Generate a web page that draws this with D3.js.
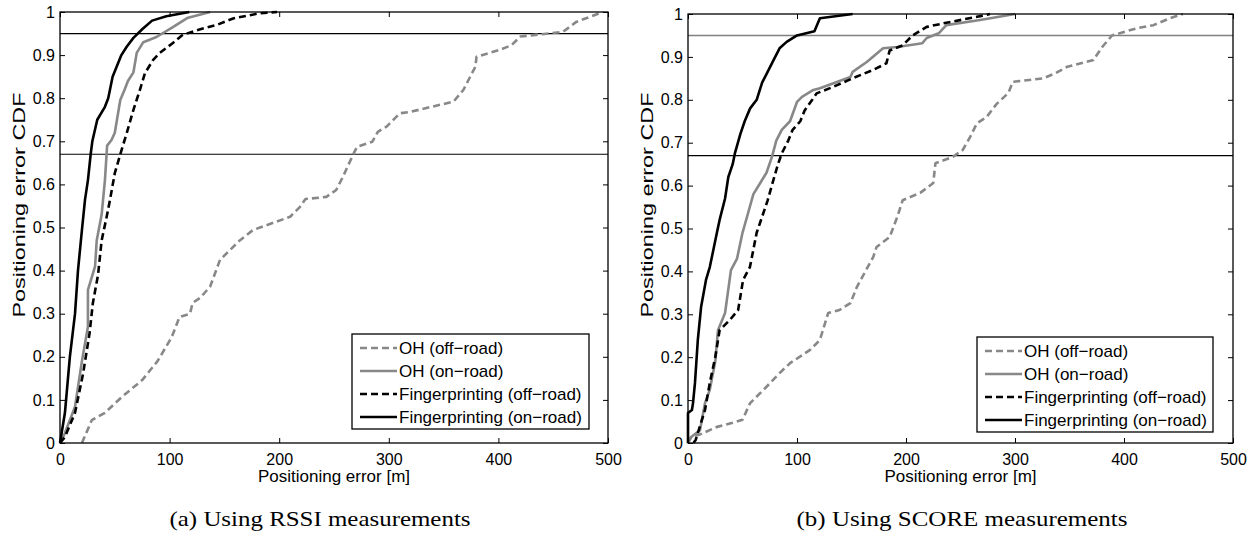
<!DOCTYPE html>
<html>
<head>
<meta charset="utf-8">
<script src="https://cdn.jsdelivr.net/npm/d3@7"></script>
<style>
  body { margin: 0; background: #fff; }
  svg { display: block; }
  text { font-family: "Liberation Sans", Arial, sans-serif; fill: #000; }
  .caption { font-family: "Liberation Serif", "Times New Roman", serif; }
</style>
</head>
<body>
<svg id="chart"></svg>
<script>
// ----- data -----
var xTicks = [0, 100, 200, 300, 400, 500];
var yTicks = [0, 0.1, 0.2, 0.3, 0.4, 0.5, 0.6, 0.7, 0.8, 0.9, 1];
var refLevels = [0.67, 0.95];
var seriesNames = ["OH (off\u2212road)", "OH (on\u2212road)", "Fingerprinting (off\u2212road)", "Fingerprinting (on\u2212road)"];
var captions = ["(a) Using RSSI measurements", "(b) Using SCORE measurements"];

// RSSI panel: [error m, CDF]
var rssiOhOff = [[20,0],[29,0.053],[41,0.07],[56.5,0.107],[75,0.146],[89,0.19],[102,0.246],[109,0.292],[118.6,0.30],[121,0.325],[128,0.337],[137,0.363],[146,0.425],[164,0.47],[176,0.494],[210,0.525],[219,0.548],[224,0.566],[243,0.571],[252,0.587],[258,0.617],[268,0.672],[271,0.687],[285,0.699],[290,0.722],[298,0.734],[310,0.765],[319,0.768],[359,0.792],[368,0.819],[379,0.873],[380,0.896],[401,0.912],[412,0.923],[420,0.943],[459,0.954],[471,0.977],[488,0.993],[495,1]];
var rssiOhOn = [[0,0],[4.5,0.023],[13.7,0.084],[20,0.19],[25.5,0.27],[25.5,0.355],[32,0.41],[33.5,0.47],[38,0.53],[41,0.61],[43,0.69],[47,0.703],[50,0.72],[55,0.796],[59,0.82],[62,0.84],[67,0.86],[70,0.905],[76,0.93],[88,0.942],[103,0.965],[116,0.986],[137,1]];
var rssiFpOff = [[0,0],[4.5,0.014],[13.7,0.07],[21,0.16],[27,0.255],[30,0.325],[34.7,0.39],[38,0.47],[43,0.53],[45.6,0.564],[50,0.626],[55.6,0.675],[61,0.72],[67,0.773],[73,0.82],[77.5,0.858],[85,0.889],[91,0.905],[103,0.928],[112,0.947],[128,0.96],[143,0.97],[158,0.985],[182,0.997],[198,1]];
var rssiFpOn = [[0,0],[4.5,0.07],[9,0.2],[13.7,0.3],[16.4,0.4],[20,0.494],[22.8,0.564],[25.5,0.61],[28,0.67],[29.5,0.7],[34,0.75],[41,0.78],[44,0.8],[48,0.85],[56,0.9],[61,0.92],[67,0.94],[75,0.96],[84,0.98],[97,0.99],[118,1]];

// SCORE panel
var scoreOhOff = [[0,0],[3,0.014],[11,0.02],[26,0.037],[41,0.047],[50,0.054],[57,0.093],[71.6,0.13],[84,0.163],[93.6,0.186],[112,0.217],[121,0.24],[128.6,0.303],[139,0.31],[149,0.326],[155,0.364],[170,0.434],[173,0.457],[185,0.48],[192,0.527],[197,0.566],[213,0.583],[225,0.606],[227,0.652],[243,0.667],[252,0.683],[259,0.714],[265,0.745],[274,0.76],[283,0.79],[294,0.816],[298,0.842],[326,0.85],[337,0.862],[348,0.877],[372,0.893],[380,0.923],[389,0.95],[412,0.967],[427,0.974],[442,0.99],[454,1]];
var scoreOhOn = [[0,0],[3,0.014],[11,0.03],[15.6,0.093],[20,0.124],[25,0.19],[27.5,0.263],[34,0.303],[39.4,0.403],[45,0.43],[50,0.49],[55,0.535],[60,0.58],[66,0.605],[72,0.63],[77,0.667],[81,0.705],[86,0.73],[93.6,0.75],[100,0.795],[104.6,0.807],[115,0.823],[121,0.827],[149,0.853],[151,0.865],[164,0.888],[179,0.92],[192,0.923],[215,0.932],[219,0.944],[230,0.955],[237,0.974],[268,0.986],[300,1]];
var scoreFpOff = [[5,0],[7,0.007],[15.6,0.077],[20,0.14],[25,0.2],[29,0.263],[38.5,0.287],[46,0.31],[48.6,0.35],[50.5,0.38],[56.8,0.41],[63,0.49],[69,0.535],[73,0.565],[78,0.61],[82.6,0.65],[86,0.675],[92,0.705],[96,0.73],[103,0.75],[107,0.775],[114,0.8],[118,0.815],[133,0.83],[151,0.85],[170,0.87],[182,0.885],[185,0.915],[197,0.927],[206,0.95],[219,0.97],[234,0.978],[274,0.998],[277,1]];
var scoreFpOn = [[0,0],[0,0.07],[3.6,0.077],[4.6,0.093],[6.4,0.14],[9,0.24],[12,0.317],[16.5,0.38],[20,0.41],[26.5,0.49],[29,0.52],[34,0.57],[37,0.62],[41,0.65],[43,0.675],[48,0.72],[52,0.75],[57,0.78],[63,0.8],[68,0.84],[72,0.86],[78,0.89],[84,0.92],[90.5,0.935],[100,0.95],[116,0.96],[121,0.99],[151,1]];

(function (d3) {

    var W = 1257, H = 536;
    var svg = d3.select("#chart").attr("width", W).attr("height", H);

    var GRAY = "#888888";
    var styles = [
        { color: GRAY, dash: "7,4" },
        { color: GRAY, dash: null },
        { color: "#000", dash: "7,4" },
        { color: "#000", dash: null }
    ];

    var panels = [
        { left: 60, top: 12, width: 548, height: 431, series: [rssiOhOff, rssiOhOn, rssiFpOff, rssiFpOn],
          refColors: ["#000", "#000"], legend: { x: 352, y: 334, w: 237, h: 95 }, ylabelX: 25,
          caption: captions[0], captionX: 320, captionLen: 301 },
        { left: 688, top: 14, width: 545, height: 429, series: [scoreOhOff, scoreOhOn, scoreFpOff, scoreFpOn],
          refColors: ["#000", "#808080"], legend: { x: 977, y: 337, w: 236, h: 95 }, ylabelX: 653,
          caption: captions[1], captionX: 962, captionLen: 331 }
    ];

    panels.forEach(function (p) { drawPanel(p); });

    function drawPanel(p) {
        var x = d3.scaleLinear().domain([0, 500]).range([0, p.width]);
        var y = d3.scaleLinear().domain([0, 1]).range([p.height, 0]);
        var g = svg.append("g").attr("transform", "translate(" + p.left + "," + p.top + ")");

        // reference levels
        g.selectAll(".ref").data(refLevels).enter().append("line")
            .attr("x1", 0).attr("x2", p.width)
            .attr("y1", function (d) { return y(d); }).attr("y2", function (d) { return y(d); })
            .attr("stroke", function (d, i) { return p.refColors[i]; })
            .attr("stroke-width", function (d, i) { return i === 1 && p.refColors[i] !== "#000" ? 1.6 : 1.2; });

        // curves
        var line = d3.line().x(function (d) { return x(d[0]); }).y(function (d) { return y(d[1]); });
        p.series.forEach(function (s, i) {
            g.append("path").datum(s)
                .attr("d", line)
                .attr("fill", "none")
                .attr("stroke", styles[i].color)
                .attr("stroke-width", 2.6)
                .attr("stroke-dasharray", styles[i].dash)
                .attr("stroke-linejoin", "round");
        });

        // axes (matlab style: inward ticks on every side)
        var fmtY = function (d) { return d === 0 || d === 1 ? String(d) : d3.format(".1f")(d); };
        var bottom = g.append("g").attr("transform", "translate(0," + p.height + ")")
            .call(d3.axisBottom(x).tickValues(xTicks).tickSizeInner(-5).tickSizeOuter(0));
        var left = g.append("g")
            .call(d3.axisLeft(y).tickValues(yTicks).tickFormat(fmtY).tickSizeInner(-5).tickSizeOuter(0).tickPadding(5));
        var top = g.append("g")
            .call(d3.axisTop(x).tickValues(xTicks).tickSizeInner(-5).tickSizeOuter(0).tickFormat(""));
        var right = g.append("g").attr("transform", "translate(" + p.width + ",0)")
            .call(d3.axisRight(y).tickValues(yTicks).tickSizeInner(-5).tickSizeOuter(0).tickFormat(""));
        [bottom, left, top, right].forEach(function (a) {
            a.select(".domain").remove();
            a.selectAll("line").attr("stroke", "#000").attr("stroke-width", 1);
            a.selectAll("text").style("font-family", "Liberation Sans, Arial, sans-serif").style("font-size", "16px");
        });
        bottom.selectAll("text").attr("y", 22).attr("dy", 0);

        g.append("rect").attr("width", p.width).attr("height", p.height)
            .attr("fill", "none").attr("stroke", "#000").attr("stroke-width", 1.3);

        // axis titles
        g.append("text").attr("x", p.width / 2).attr("y", p.height + 39)
            .attr("text-anchor", "middle").style("font-size", "17px").text("Positioning error [m]");
        svg.append("text").attr("transform", "translate(" + p.ylabelX + ",205) rotate(-90)")
            .attr("text-anchor", "middle").style("font-size", "17px")
            .attr("textLength", 225).attr("lengthAdjust", "spacingAndGlyphs")
            .text("Positioning error CDF");

        // legend
        var lg = svg.append("g").attr("transform", "translate(" + p.legend.x + "," + p.legend.y + ")");
        lg.append("rect").attr("width", p.legend.w).attr("height", p.legend.h)
            .attr("fill", "#fff").attr("stroke", "#000").attr("stroke-width", 1.3);
        seriesNames.forEach(function (name, i) {
            var yy = 14 + i * 23;
            lg.append("line").attr("x1", 8).attr("x2", 45).attr("y1", yy).attr("y2", yy)
                .attr("stroke", styles[i].color).attr("stroke-width", 2.6)
                .attr("stroke-dasharray", styles[i].dash);
            lg.append("text").attr("x", 47).attr("y", yy).attr("dy", "0.35em")
                .style("font-size", "17px").text(name);
        });

        // caption
        svg.append("text").attr("class", "caption")
            .attr("x", p.captionX).attr("y", 526)
            .attr("text-anchor", "middle").style("font-size", "22px")
            .attr("textLength", p.captionLen).attr("lengthAdjust", "spacingAndGlyphs")
            .text(p.caption);
    }

})(d3);
</script>
</body>
</html>
